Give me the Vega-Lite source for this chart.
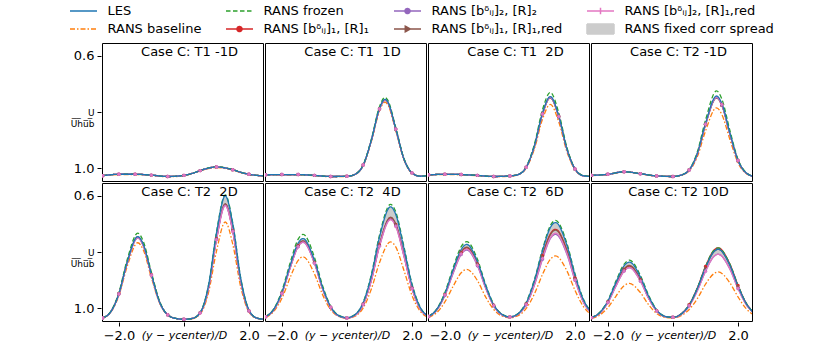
{
  "$schema": "https://vega.github.io/schema/vega-lite/v6.json",
  "background": "white",
  "padding": {"left": 70, "top": 0, "right": 0, "bottom": 0},
  "data": {"values": [
    {"p":1,"x":-2.5,"L":1.027,"B":1.027,"F":1.027,"R1":1.027,"R2":1.027,"R3":1.027,"R4":1.027},
    {"p":1,"x":-2,"L":1.022,"B":1.023,"F":1.022,"R1":1.022,"R2":1.022,"R3":1.022,"R4":1.022},
    {"p":1,"x":-1.5,"L":1.022,"B":1.023,"F":1.022,"R1":1.022,"R2":1.022,"R3":1.022,"R4":1.022},
    {"p":1,"x":-1,"L":1.025,"B":1.026,"F":1.025,"R1":1.025,"R2":1.025,"R3":1.025,"R4":1.025},
    {"p":1,"x":-0.5,"L":1.03,"B":1.031,"F":1.03,"R1":1.03,"R2":1.03,"R3":1.03,"R4":1.03},
    {"p":1,"x":0,"L":1.026,"B":1.027,"F":1.026,"R1":1.026,"R2":1.026,"R3":1.026,"R4":1.026,"t":"Case C: T1 -1D"},
    {"p":1,"x":0.25,"L":1.019,"B":1.02,"F":1.019,"R1":1.019,"R2":1.019,"R3":1.019,"R4":1.019},
    {"p":1,"x":0.5,"L":1.009,"B":1.01,"F":1.008,"R1":1.009,"R2":1.009,"R3":1.009,"R4":1.009},
    {"p":1,"x":0.75,"L":1.0,"B":1.002,"F":0.999,"R1":1.0,"R2":1.0,"R3":1.0,"R4":1.0},
    {"p":1,"x":1,"L":0.996,"B":0.998,"F":0.995,"R1":0.996,"R2":0.996,"R3":0.996,"R4":0.996},
    {"p":1,"x":1.25,"L":0.999,"B":1.001,"F":0.998,"R1":0.999,"R2":0.999,"R3":0.999,"R4":0.999},
    {"p":1,"x":1.5,"L":1.006,"B":1.007,"F":1.005,"R1":1.006,"R2":1.006,"R3":1.006,"R4":1.006},
    {"p":1,"x":1.75,"L":1.015,"B":1.016,"F":1.015,"R1":1.015,"R2":1.015,"R3":1.015,"R4":1.015},
    {"p":1,"x":2,"L":1.022,"B":1.023,"F":1.022,"R1":1.022,"R2":1.022,"R3":1.022,"R4":1.022},
    {"p":1,"x":2.5,"L":1.028,"B":1.028,"F":1.028,"R1":1.028,"R2":1.028,"R3":1.028,"R4":1.028},

    {"p":2,"x":-2.5,"L":1.024,"B":1.025,"F":1.024,"R1":1.024,"R2":1.024,"R3":1.024,"R4":1.024},
    {"p":2,"x":-2,"L":1.023,"B":1.024,"F":1.023,"R1":1.023,"R2":1.023,"R3":1.023,"R4":1.023},
    {"p":2,"x":-1.5,"L":1.023,"B":1.024,"F":1.023,"R1":1.023,"R2":1.023,"R3":1.023,"R4":1.023},
    {"p":2,"x":-1,"L":1.026,"B":1.027,"F":1.026,"R1":1.026,"R2":1.026,"R3":1.026,"R4":1.026},
    {"p":2,"x":-0.5,"L":1.03,"B":1.031,"F":1.03,"R1":1.03,"R2":1.03,"R3":1.03,"R4":1.03},
    {"p":2,"x":0,"L":1.029,"B":1.03,"F":1.029,"R1":1.029,"R2":1.029,"R3":1.029,"R4":1.029,"t":"Case C: T1 \u00a01D"},
    {"p":2,"x":0.25,"L":1.022,"B":1.023,"F":1.022,"R1":1.022,"R2":1.022,"R3":1.022,"R4":1.022},
    {"p":2,"x":0.5,"L":0.989,"B":0.991,"F":0.988,"R1":0.989,"R2":0.989,"R3":0.99,"R4":0.989},
    {"p":2,"x":0.75,"L":0.9,"B":0.905,"F":0.897,"R1":0.901,"R2":0.901,"R3":0.902,"R4":0.901},
    {"p":2,"x":1,"L":0.787,"B":0.796,"F":0.781,"R1":0.789,"R2":0.789,"R3":0.79,"R4":0.789},
    {"p":2,"x":1.17,"L":0.755,"B":0.765,"F":0.748,"R1":0.757,"R2":0.757,"R3":0.758,"R4":0.757},
    {"p":2,"x":1.25,"L":0.763,"B":0.773,"F":0.757,"R1":0.765,"R2":0.765,"R3":0.766,"R4":0.765},
    {"p":2,"x":1.5,"L":0.859,"B":0.866,"F":0.855,"R1":0.861,"R2":0.861,"R3":0.862,"R4":0.861},
    {"p":2,"x":1.75,"L":0.967,"B":0.969,"F":0.965,"R1":0.967,"R2":0.967,"R3":0.967,"R4":0.967},
    {"p":2,"x":2,"L":1.017,"B":1.018,"F":1.017,"R1":1.017,"R2":1.017,"R3":1.017,"R4":1.017},
    {"p":2,"x":2.25,"L":1.029,"B":1.029,"F":1.029,"R1":1.029,"R2":1.029,"R3":1.029,"R4":1.029},
    {"p":2,"x":2.5,"L":1.026,"B":1.026,"F":1.026,"R1":1.026,"R2":1.026,"R3":1.026,"R4":1.026},

    {"p":3,"x":-2.5,"L":1.024,"B":1.025,"F":1.024,"R1":1.024,"R2":1.024,"R3":1.024,"R4":1.024},
    {"p":3,"x":-2,"L":1.022,"B":1.023,"F":1.022,"R1":1.022,"R2":1.022,"R3":1.022,"R4":1.022},
    {"p":3,"x":-1.5,"L":1.023,"B":1.024,"F":1.023,"R1":1.023,"R2":1.023,"R3":1.023,"R4":1.023},
    {"p":3,"x":-1,"L":1.026,"B":1.027,"F":1.026,"R1":1.026,"R2":1.026,"R3":1.026,"R4":1.026},
    {"p":3,"x":-0.5,"L":1.03,"B":1.031,"F":1.03,"R1":1.03,"R2":1.03,"R3":1.03,"R4":1.03},
    {"p":3,"x":0,"L":1.028,"B":1.029,"F":1.028,"R1":1.028,"R2":1.028,"R3":1.028,"R4":1.028,"t":"Case C: T1 \u00a02D"},
    {"p":3,"x":0.25,"L":1.023,"B":1.023,"F":1.023,"R1":1.023,"R2":1.023,"R3":1.023,"R4":1.023},
    {"p":3,"x":0.5,"L":0.997,"B":1.0,"F":0.995,"R1":0.997,"R2":0.997,"R3":0.998,"R4":0.997},
    {"p":3,"x":0.75,"L":0.921,"B":0.932,"F":0.916,"R1":0.922,"R2":0.922,"R3":0.923,"R4":0.922},
    {"p":3,"x":1,"L":0.804,"B":0.826,"F":0.792,"R1":0.807,"R2":0.807,"R3":0.808,"R4":0.807},
    {"p":3,"x":1.24,"L":0.745,"B":0.773,"F":0.73,"R1":0.748,"R2":0.748,"R3":0.75,"R4":0.748},
    {"p":3,"x":1.5,"L":0.814,"B":0.835,"F":0.803,"R1":0.816,"R2":0.816,"R3":0.818,"R4":0.816},
    {"p":3,"x":1.75,"L":0.931,"B":0.941,"F":0.926,"R1":0.932,"R2":0.932,"R3":0.933,"R4":0.932},
    {"p":3,"x":2,"L":1.003,"B":1.006,"F":1.002,"R1":1.003,"R2":1.003,"R3":1.003,"R4":1.003},
    {"p":3,"x":2.25,"L":1.027,"B":1.027,"F":1.026,"R1":1.027,"R2":1.027,"R3":1.027,"R4":1.027},
    {"p":3,"x":2.5,"L":1.03,"B":1.03,"F":1.03,"R1":1.03,"R2":1.03,"R3":1.03,"R4":1.03},

    {"p":4,"x":-2.5,"L":1.026,"B":1.027,"F":1.026,"R1":1.026,"R2":1.026,"R3":1.026,"R4":1.026},
    {"p":4,"x":-2,"L":1.022,"B":1.023,"F":1.022,"R1":1.022,"R2":1.022,"R3":1.022,"R4":1.022},
    {"p":4,"x":-1.5,"L":1.013,"B":1.014,"F":1.013,"R1":1.013,"R2":1.013,"R3":1.013,"R4":1.013},
    {"p":4,"x":-1,"L":1.02,"B":1.021,"F":1.02,"R1":1.02,"R2":1.02,"R3":1.02,"R4":1.02},
    {"p":4,"x":-0.5,"L":1.028,"B":1.029,"F":1.028,"R1":1.028,"R2":1.028,"R3":1.028,"R4":1.028},
    {"p":4,"x":0,"L":1.03,"B":1.03,"F":1.03,"R1":1.03,"R2":1.03,"R3":1.03,"R4":1.03,"t":"Case C: T2 -1D"},
    {"p":4,"x":0.25,"L":1.025,"B":1.026,"F":1.025,"R1":1.025,"R2":1.025,"R3":1.025,"R4":1.025},
    {"p":4,"x":0.5,"L":1.006,"B":1.01,"F":1.005,"R1":1.007,"R2":1.007,"R3":1.007,"R4":1.007},
    {"p":4,"x":0.75,"L":0.947,"B":0.959,"F":0.942,"R1":0.949,"R2":0.949,"R3":0.95,"R4":0.949},
    {"p":4,"x":1,"L":0.841,"B":0.868,"F":0.829,"R1":0.844,"R2":0.844,"R3":0.846,"R4":0.844},
    {"p":4,"x":1.34,"L":0.743,"B":0.785,"F":0.725,"R1":0.748,"R2":0.748,"R3":0.75,"R4":0.747},
    {"p":4,"x":1.5,"L":0.769,"B":0.808,"F":0.753,"R1":0.774,"R2":0.774,"R3":0.776,"R4":0.773},
    {"p":4,"x":1.75,"L":0.875,"B":0.898,"F":0.866,"R1":0.878,"R2":0.878,"R3":0.879,"R4":0.878},
    {"p":4,"x":2,"L":0.972,"B":0.981,"F":0.969,"R1":0.973,"R2":0.973,"R3":0.974,"R4":0.973},
    {"p":4,"x":2.25,"L":1.017,"B":1.019,"F":1.016,"R1":1.017,"R2":1.017,"R3":1.017,"R4":1.017},
    {"p":4,"x":2.5,"L":1.03,"B":1.03,"F":1.03,"R1":1.03,"R2":1.03,"R3":1.03,"R4":1.03},

    {"p":5,"x":-2.5,"L":1.035,"B":1.035,"F":1.035,"R1":1.035,"R2":1.035,"R3":1.035,"R4":1.035,"a":1.035,"b":1.035},
    {"p":5,"x":-2.25,"L":1.013,"B":1.015,"F":1.012,"R1":1.013,"R2":1.013,"R3":1.013,"R4":1.013,"a":1.013,"b":1.013},
    {"p":5,"x":-2,"L":0.948,"B":0.955,"F":0.944,"R1":0.949,"R2":0.95,"R3":0.949,"R4":0.95,"a":0.948,"b":0.95},
    {"p":5,"x":-1.75,"L":0.838,"B":0.853,"F":0.829,"R1":0.84,"R2":0.841,"R3":0.839,"R4":0.841,"a":0.838,"b":0.842},
    {"p":5,"x":-1.42,"L":0.745,"B":0.767,"F":0.733,"R1":0.748,"R2":0.75,"R3":0.747,"R4":0.75,"a":0.744,"b":0.752},
    {"p":5,"x":-1.25,"L":0.773,"B":0.793,"F":0.762,"R1":0.776,"R2":0.778,"R3":0.775,"R4":0.778,"a":0.772,"b":0.78},
    {"p":5,"x":-1,"L":0.88,"B":0.892,"F":0.873,"R1":0.881,"R2":0.883,"R3":0.881,"R4":0.883,"a":0.879,"b":0.884},
    {"p":5,"x":-0.75,"L":0.978,"B":0.982,"F":0.975,"R1":0.978,"R2":0.979,"R3":0.978,"R4":0.979,"a":0.978,"b":0.979},
    {"p":5,"x":-0.5,"L":1.024,"B":1.025,"F":1.024,"R1":1.024,"R2":1.024,"R3":1.024,"R4":1.024,"a":1.024,"b":1.024},
    {"p":5,"x":-0.25,"L":1.037,"B":1.037,"F":1.037,"R1":1.037,"R2":1.037,"R3":1.037,"R4":1.037,"a":1.037,"b":1.037},
    {"p":5,"x":0,"L":1.04,"B":1.04,"F":1.04,"R1":1.04,"R2":1.04,"R3":1.04,"R4":1.04,"a":1.04,"b":1.04,"t":"Case C: T2 \u00a02D"},
    {"p":5,"x":0.25,"L":1.037,"B":1.038,"F":1.037,"R1":1.037,"R2":1.037,"R3":1.037,"R4":1.037,"a":1.037,"b":1.037},
    {"p":5,"x":0.5,"L":1.016,"B":1.021,"F":1.015,"R1":1.017,"R2":1.017,"R3":1.017,"R4":1.018,"a":1.016,"b":1.018},
    {"p":5,"x":0.75,"L":0.922,"B":0.947,"F":0.921,"R1":0.931,"R2":0.931,"R3":0.93,"R4":0.932,"a":0.923,"b":0.932},
    {"p":5,"x":1,"L":0.732,"B":0.797,"F":0.729,"R1":0.753,"R2":0.755,"R3":0.752,"R4":0.757,"a":0.733,"b":0.757},
    {"p":5,"x":1.27,"L":0.6,"B":0.693,"F":0.596,"R1":0.63,"R2":0.633,"R3":0.628,"R4":0.635,"a":0.602,"b":0.635},
    {"p":5,"x":1.5,"L":0.7,"B":0.772,"F":0.697,"R1":0.724,"R2":0.726,"R3":0.722,"R4":0.727,"a":0.702,"b":0.727},
    {"p":5,"x":1.75,"L":0.897,"B":0.927,"F":0.896,"R1":0.907,"R2":0.908,"R3":0.906,"R4":0.908,"a":0.898,"b":0.908},
    {"p":5,"x":2,"L":1.007,"B":1.014,"F":1.007,"R1":1.01,"R2":1.01,"R3":1.009,"R4":1.01,"a":1.007,"b":1.01},
    {"p":5,"x":2.25,"L":1.036,"B":1.037,"F":1.036,"R1":1.036,"R2":1.036,"R3":1.036,"R4":1.036,"a":1.036,"b":1.036},
    {"p":5,"x":2.5,"L":1.04,"B":1.04,"F":1.04,"R1":1.04,"R2":1.04,"R3":1.04,"R4":1.04,"a":1.04,"b":1.04},

    {"p":6,"x":-2.5,"L":1.031,"B":1.033,"F":1.03,"R1":1.031,"R2":1.031,"R3":1.031,"R4":1.031,"a":1.03,"b":1.031},
    {"p":6,"x":-2.25,"L":1.004,"B":1.012,"F":1.003,"R1":1.006,"R2":1.006,"R3":1.005,"R4":1.006,"a":1.004,"b":1.006},
    {"p":6,"x":-2,"L":0.943,"B":0.965,"F":0.938,"R1":0.947,"R2":0.948,"R3":0.946,"R4":0.948,"a":0.943,"b":0.948},
    {"p":6,"x":-1.75,"L":0.849,"B":0.892,"F":0.84,"R1":0.856,"R2":0.858,"R3":0.855,"R4":0.858,"a":0.848,"b":0.858},
    {"p":6,"x":-1.5,"L":0.768,"B":0.83,"F":0.754,"R1":0.778,"R2":0.781,"R3":0.776,"R4":0.781,"a":0.766,"b":0.781},
    {"p":6,"x":-1.35,"L":0.752,"B":0.817,"F":0.737,"R1":0.762,"R2":0.765,"R3":0.76,"R4":0.765,"a":0.75,"b":0.765},
    {"p":6,"x":-1,"L":0.83,"B":0.878,"F":0.819,"R1":0.837,"R2":0.84,"R3":0.836,"R4":0.84,"a":0.829,"b":0.84},
    {"p":6,"x":-0.75,"L":0.926,"B":0.952,"F":0.92,"R1":0.93,"R2":0.932,"R3":0.93,"R4":0.932,"a":0.926,"b":0.932},
    {"p":6,"x":-0.5,"L":0.995,"B":1.006,"F":0.993,"R1":0.997,"R2":0.997,"R3":0.997,"R4":0.997,"a":0.995,"b":0.997},
    {"p":6,"x":-0.25,"L":1.027,"B":1.03,"F":1.026,"R1":1.028,"R2":1.028,"R3":1.028,"R4":1.028,"a":1.027,"b":1.028},
    {"p":6,"x":0,"L":1.034,"B":1.036,"F":1.034,"R1":1.035,"R2":1.035,"R3":1.035,"R4":1.035,"a":1.034,"b":1.035,"t":"Case C: T2 \u00a04D"},
    {"p":6,"x":0.25,"L":1.023,"B":1.029,"F":1.023,"R1":1.025,"R2":1.025,"R3":1.025,"R4":1.026,"a":1.023,"b":1.025},
    {"p":6,"x":0.5,"L":0.98,"B":0.999,"F":0.979,"R1":0.986,"R2":0.987,"R3":0.986,"R4":0.987,"a":0.981,"b":0.987},
    {"p":6,"x":0.75,"L":0.884,"B":0.932,"F":0.88,"R1":0.899,"R2":0.901,"R3":0.898,"R4":0.902,"a":0.884,"b":0.901},
    {"p":6,"x":1,"L":0.747,"B":0.838,"F":0.74,"R1":0.775,"R2":0.779,"R3":0.774,"R4":0.78,"a":0.747,"b":0.779},
    {"p":6,"x":1.34,"L":0.639,"B":0.764,"F":0.63,"R1":0.678,"R2":0.683,"R3":0.676,"R4":0.685,"a":0.64,"b":0.683},
    {"p":6,"x":1.5,"L":0.666,"B":0.782,"F":0.657,"R1":0.702,"R2":0.707,"R3":0.7,"R4":0.709,"a":0.667,"b":0.707},
    {"p":6,"x":1.75,"L":0.786,"B":0.865,"F":0.78,"R1":0.81,"R2":0.813,"R3":0.809,"R4":0.815,"a":0.786,"b":0.813},
    {"p":6,"x":2,"L":0.917,"B":0.955,"F":0.914,"R1":0.929,"R2":0.93,"R3":0.928,"R4":0.931,"a":0.917,"b":0.93},
    {"p":6,"x":2.25,"L":0.997,"B":1.011,"F":0.996,"R1":1.001,"R2":1.002,"R3":1.001,"R4":1.002,"a":0.997,"b":1.002},
    {"p":6,"x":2.5,"L":1.029,"B":1.033,"F":1.029,"R1":1.03,"R2":1.03,"R3":1.03,"R4":1.03,"a":1.029,"b":1.03},

    {"p":7,"x":-2.5,"L":1.03,"B":1.033,"F":1.029,"R1":1.03,"R2":1.03,"R3":1.03,"R4":1.03,"a":1.029,"b":1.03},
    {"p":7,"x":-2.25,"L":1.004,"B":1.016,"F":1.003,"R1":1.006,"R2":1.007,"R3":1.005,"R4":1.006,"a":1.004,"b":1.007},
    {"p":7,"x":-2,"L":0.948,"B":0.978,"F":0.944,"R1":0.952,"R2":0.955,"R3":0.951,"R4":0.953,"a":0.947,"b":0.955},
    {"p":7,"x":-1.75,"L":0.864,"B":0.923,"F":0.857,"R1":0.872,"R2":0.877,"R3":0.871,"R4":0.875,"a":0.863,"b":0.877},
    {"p":7,"x":-1.5,"L":0.791,"B":0.874,"F":0.781,"R1":0.802,"R2":0.809,"R3":0.8,"R4":0.807,"a":0.79,"b":0.809},
    {"p":7,"x":-1.33,"L":0.773,"B":0.862,"F":0.763,"R1":0.785,"R2":0.793,"R3":0.783,"R4":0.79,"a":0.772,"b":0.793},
    {"p":7,"x":-1,"L":0.834,"B":0.902,"F":0.826,"R1":0.843,"R2":0.849,"R3":0.841,"R4":0.847,"a":0.833,"b":0.849},
    {"p":7,"x":-0.75,"L":0.919,"B":0.96,"F":0.915,"R1":0.925,"R2":0.928,"R3":0.924,"R4":0.927,"a":0.919,"b":0.928},
    {"p":7,"x":-0.5,"L":0.988,"B":1.005,"F":0.986,"R1":0.99,"R2":0.992,"R3":0.99,"R4":0.991,"a":0.987,"b":0.992},
    {"p":7,"x":-0.25,"L":1.022,"B":1.028,"F":1.021,"R1":1.023,"R2":1.024,"R3":1.023,"R4":1.024,"a":1.022,"b":1.024},
    {"p":7,"x":0,"L":1.031,"B":1.034,"F":1.031,"R1":1.032,"R2":1.032,"R3":1.032,"R4":1.032,"a":1.031,"b":1.032,"t":"Case C: T2 \u00a06D"},
    {"p":7,"x":0.25,"L":1.02,"B":1.027,"F":1.019,"R1":1.021,"R2":1.022,"R3":1.021,"R4":1.022,"a":1.02,"b":1.022},
    {"p":7,"x":0.5,"L":0.981,"B":1.001,"F":0.979,"R1":0.985,"R2":0.988,"R3":0.985,"R4":0.987,"a":0.981,"b":0.988},
    {"p":7,"x":0.75,"L":0.902,"B":0.95,"F":0.899,"R1":0.912,"R2":0.919,"R3":0.913,"R4":0.917,"a":0.903,"b":0.919},
    {"p":7,"x":1,"L":0.796,"B":0.88,"F":0.791,"R1":0.813,"R2":0.826,"R3":0.815,"R4":0.823,"a":0.798,"b":0.826},
    {"p":7,"x":1.25,"L":0.711,"B":0.825,"F":0.704,"R1":0.734,"R2":0.751,"R3":0.737,"R4":0.748,"a":0.713,"b":0.751},
    {"p":7,"x":1.4,"L":0.695,"B":0.814,"F":0.687,"R1":0.719,"R2":0.737,"R3":0.722,"R4":0.733,"a":0.697,"b":0.737},
    {"p":7,"x":1.75,"L":0.776,"B":0.867,"F":0.769,"R1":0.794,"R2":0.808,"R3":0.796,"R4":0.805,"a":0.777,"b":0.808},
    {"p":7,"x":2,"L":0.882,"B":0.937,"F":0.878,"R1":0.893,"R2":0.901,"R3":0.894,"R4":0.9,"a":0.883,"b":0.901},
    {"p":7,"x":2.25,"L":0.968,"B":0.993,"F":0.966,"R1":0.973,"R2":0.977,"R3":0.974,"R4":0.976,"a":0.968,"b":0.977},
    {"p":7,"x":2.5,"L":1.015,"B":1.024,"F":1.014,"R1":1.017,"R2":1.018,"R3":1.017,"R4":1.018,"a":1.015,"b":1.018},

    {"p":8,"x":-2.5,"L":1.034,"B":1.036,"F":1.033,"R1":1.034,"R2":1.034,"R3":1.034,"R4":1.034,"a":1.034,"b":1.034},
    {"p":8,"x":-2.25,"L":1.016,"B":1.025,"F":1.015,"R1":1.018,"R2":1.018,"R3":1.017,"R4":1.018,"a":1.016,"b":1.018},
    {"p":8,"x":-2,"L":0.974,"B":0.998,"F":0.972,"R1":0.978,"R2":0.98,"R3":0.978,"R4":0.98,"a":0.974,"b":0.98},
    {"p":8,"x":-1.75,"L":0.908,"B":0.957,"F":0.903,"R1":0.917,"R2":0.921,"R3":0.916,"R4":0.921,"a":0.908,"b":0.921},
    {"p":8,"x":-1.5,"L":0.849,"B":0.92,"F":0.843,"R1":0.862,"R2":0.868,"R3":0.86,"R4":0.868,"a":0.849,"b":0.868},
    {"p":8,"x":-1.34,"L":0.836,"B":0.912,"F":0.829,"R1":0.85,"R2":0.856,"R3":0.848,"R4":0.856,"a":0.836,"b":0.856},
    {"p":8,"x":-1,"L":0.889,"B":0.945,"F":0.884,"R1":0.899,"R2":0.904,"R3":0.898,"R4":0.904,"a":0.889,"b":0.904},
    {"p":8,"x":-0.75,"L":0.957,"B":0.988,"F":0.954,"R1":0.963,"R2":0.965,"R3":0.962,"R4":0.965,"a":0.957,"b":0.965},
    {"p":8,"x":-0.5,"L":1.007,"B":1.019,"F":1.006,"R1":1.009,"R2":1.01,"R3":1.009,"R4":1.01,"a":1.007,"b":1.01},
    {"p":8,"x":-0.25,"L":1.029,"B":1.033,"F":1.029,"R1":1.03,"R2":1.03,"R3":1.03,"R4":1.03,"a":1.029,"b":1.03},
    {"p":8,"x":0,"L":1.033,"B":1.035,"F":1.033,"R1":1.033,"R2":1.033,"R3":1.033,"R4":1.033,"a":1.033,"b":1.033,"t":"Case C: T2 10D"},
    {"p":8,"x":0.25,"L":1.021,"B":1.027,"F":1.021,"R1":1.021,"R2":1.023,"R3":1.021,"R4":1.023,"a":1.021,"b":1.023},
    {"p":8,"x":0.5,"L":0.989,"B":1.005,"F":0.988,"R1":0.988,"R2":0.992,"R3":0.989,"R4":0.992,"a":0.988,"b":0.992},
    {"p":8,"x":0.75,"L":0.93,"B":0.966,"F":0.928,"R1":0.928,"R2":0.938,"R3":0.93,"R4":0.938,"a":0.928,"b":0.938},
    {"p":8,"x":1,"L":0.856,"B":0.915,"F":0.852,"R1":0.852,"R2":0.869,"R3":0.856,"R4":0.869,"a":0.853,"b":0.869},
    {"p":8,"x":1.25,"L":0.8,"B":0.878,"F":0.795,"R1":0.795,"R2":0.817,"R3":0.8,"R4":0.817,"a":0.797,"b":0.817},
    {"p":8,"x":1.39,"L":0.79,"B":0.871,"F":0.785,"R1":0.785,"R2":0.808,"R3":0.79,"R4":0.808,"a":0.787,"b":0.808},
    {"p":8,"x":1.75,"L":0.847,"B":0.91,"F":0.843,"R1":0.843,"R2":0.861,"R3":0.847,"R4":0.861,"a":0.845,"b":0.861},
    {"p":8,"x":2,"L":0.921,"B":0.96,"F":0.919,"R1":0.919,"R2":0.93,"R3":0.921,"R4":0.93,"a":0.92,"b":0.93},
    {"p":8,"x":2.25,"L":0.983,"B":1.002,"F":0.982,"R1":0.982,"R2":0.987,"R3":0.983,"R4":0.987,"a":0.982,"b":0.987},
    {"p":8,"x":2.5,"L":1.019,"B":1.026,"F":1.018,"R1":1.018,"R2":1.02,"R3":1.019,"R4":1.02,"a":1.019,"b":1.02}
  ]},
  "transform": [
    {"calculate": "datum.p <= 4 ? 1 : 2", "as": "r"},
    {"calculate": "datum.p <= 4 ? datum.p : datum.p - 4", "as": "c"}
  ],
  "facet": {
    "row": {"field": "r", "type": "ordinal", "header": {"labels": false, "title": null}},
    "column": {"field": "c", "type": "ordinal", "header": {"labels": false, "title": null}}
  },
  "spacing": {"row": 0, "column": 0},
  "spec": {
    "width": 161,
    "height": 138,
    "encoding": {
      "x": {"field": "x", "type": "quantitative",
            "scale": {"domain": [-2.52, 2.43], "nice": false, "zero": false},
            "axis": {"values": [-2, 0, 2], "title": null, "grid": false, "domain": false, "tickSize": 4, "tickColor": "black",
                     "labelColor": "black", "labelPadding": 3, "labelOverlap": false, "labelFlush": false,
                     "labelFontSize": {"condition": {"test": "datum.value == 0", "value": 11}, "value": 13},
                     "labelFontStyle": {"condition": {"test": "datum.value == 0", "value": "italic"}, "value": "normal"},
                     "labelExpr": "datum.value == 0 ? '(y − ycenter)/D' : format(datum.value, '.1f')"}}
    },
    "layer": [
      {
        "transform": [{"filter": "isValid(datum.a)"}],
        "mark": {"type": "area", "interpolate": "monotone", "clip": true, "opacity": 1},
        "encoding": {
          "y": {"field": "a", "type": "quantitative",
                "scale": {"domain": [0.554, 1.046], "reverse": true, "nice": false, "zero": false},
                "axis": {"values": [0.6, 0.8, 1.0], "title": null, "grid": false, "domain": false, "tickSize": 4, "tickColor": "black",
                         "labelColor": "black", "labelPadding": 3,
                         "labelFontSize": {"condition": {"test": "datum.value == 0.8", "value": 9}, "value": 13},
                         "labelExpr": "datum.value == 0.8 ? ['U', 'U\u0305h\u0305u\u0305b\u0305'] : format(datum.value, '.1f')"}},
          "y2": {"field": "b"},
          "color": {"datum": "S"}
        }
      },
      {
        "transform": [{"fold": ["B", "R1", "R3", "R2", "R4", "F", "L"], "as": ["s", "v"]}],
        "mark": {"type": "line", "interpolate": "monotone", "clip": true, "strokeWidth": 1.3},
        "encoding": {
          "y": {"field": "v", "type": "quantitative",
                "scale": {"domain": [0.554, 1.046], "reverse": true, "nice": false, "zero": false},
                "axis": {"values": [0.6, 0.8, 1.0], "title": null, "grid": false, "domain": false, "tickSize": 4, "tickColor": "black",
                         "labelColor": "black", "labelPadding": 3,
                         "labelFontSize": {"condition": {"test": "datum.value == 0.8", "value": 9}, "value": 13},
                         "labelExpr": "datum.value == 0.8 ? ['U', 'U\u0305h\u0305u\u0305b\u0305'] : format(datum.value, '.1f')"}},
          "color": {"field": "s", "type": "nominal",
                    "scale": {"domain": ["L", "B", "F", "R1", "R2", "R3", "R4", "S"],
                              "range": ["#1f77b4", "#ff7f0e", "#2ca02c", "#d62728", "#9467bd", "#8c564b", "#e377c2", "#cccccc"]},
                    "legend": {
                      "orient": "none", "legendX": -29.5, "legendY": -43, "columns": 4, "title": null, "padding": 0,
                      "labelFontSize": 13, "labelFont": "DejaVu Sans", "labelColor": "black", "labelLimit": 400,
                      "columnPadding": 21, "rowPadding": 0, "labelOffset": 13, "symbolSize": 400, "symbolStrokeWidth": 1.5,
                      "labelExpr": "datum.value === 'L' ? 'LES' : datum.value === 'B' ? 'RANS baseline' : datum.value === 'F' ? 'RANS frozen' : datum.value === 'R1' ? 'RANS [bᵟᵢⱼ]₁, [R]₁' : datum.value === 'R2' ? 'RANS [bᵟᵢⱼ]₂, [R]₂' : datum.value === 'R3' ? 'RANS [bᵟᵢⱼ]₁, [R]₁,red' : datum.value === 'R4' ? 'RANS [bᵟᵢⱼ]₂, [R]₁,red' : 'RANS fixed corr spread'",
                      "encode": {"symbols": {"update": {
                        "shape": {"signal": "datum.value === 'S' ? 'M-1.35,-0.5H1.35V0.5H-1.35Z' : (datum.value === 'R1' || datum.value === 'R2') ? 'M-1.35,0H1.35M-0.25,0A0.25,0.25,0,1,1,0.25,0A0.25,0.25,0,1,1,-0.25,0' : datum.value === 'R3' ? 'M-1.35,0H1.35M-0.22,-0.28L0.28,0L-0.22,0.28Z' : datum.value === 'R4' ? 'M-1.35,0H1.35M0,-0.32V0.32' : 'M-1.35,0H1.35'"},
                        "strokeDash": {"signal": "datum.value === 'F' ? [4.5, 2.5] : datum.value === 'B' ? [5, 2, 1.5, 2] : [1, 0]"},
                        "fill": {"signal": "datum.value === 'S' ? '#cccccc' : datum.value === 'R1' ? '#d62728' : datum.value === 'R2' ? '#9467bd' : datum.value === 'R3' ? '#8c564b' : 'transparent'"},
                        "stroke": {"signal": "datum.value === 'S' ? 'transparent' : scale('color', datum.value)"},
                        "strokeWidth": {"value": 1.5},
                        "opacity": {"value": 1},
                        "fillOpacity": {"value": 1}
                      }}}
                    }},
          "strokeDash": {"field": "s", "type": "nominal", "legend": null,
                         "scale": {"domain": ["L", "B", "F", "R1", "R2", "R3", "R4"],
                                   "range": [[1, 0], [5, 2, 1.5, 2], [4.5, 2.5], [1, 0], [1, 0], [1, 0], [1, 0]]}}
        }
      },
      {
        "transform": [{"filter": "datum.x * 2 == round(datum.x * 2)"}, {"fold": ["R1", "R3", "R2", "R4"], "as": ["s", "v"]}],
        "mark": {"type": "point", "filled": true, "size": 12, "clip": true, "opacity": 1},
        "encoding": {
          "y": {"field": "v", "type": "quantitative",
                "scale": {"domain": [0.554, 1.046], "reverse": true, "nice": false, "zero": false}},
          "color": {"field": "s", "type": "nominal"},
          "shape": {"field": "s", "type": "nominal", "legend": null,
                    "scale": {"domain": ["R1", "R2", "R3", "R4"], "range": ["circle", "circle", "triangle-right", "cross"]}}
        }
      },
      {
        "transform": [{"filter": "isValid(datum.t)"}],
        "mark": {"type": "text", "fontSize": 13, "font": "DejaVu Sans", "color": "black", "align": "center", "baseline": "middle"},
        "encoding": {
          "x": {"datum": 0.17, "type": "quantitative", "scale": {"domain": [-2.52, 2.43], "nice": false, "zero": false}},
          "y": {"datum": 0.586, "type": "quantitative", "scale": {"domain": [0.554, 1.046], "reverse": true, "nice": false, "zero": false}},
          "text": {"field": "t"}
        }
      }
    ]
  },
  "config": {
    "font": "DejaVu Sans",
    "view": {"stroke": "black", "strokeWidth": 1},
    "axis": {"labelFont": "DejaVu Sans", "labelColor": "black", "tickColor": "black"}
  }
}
